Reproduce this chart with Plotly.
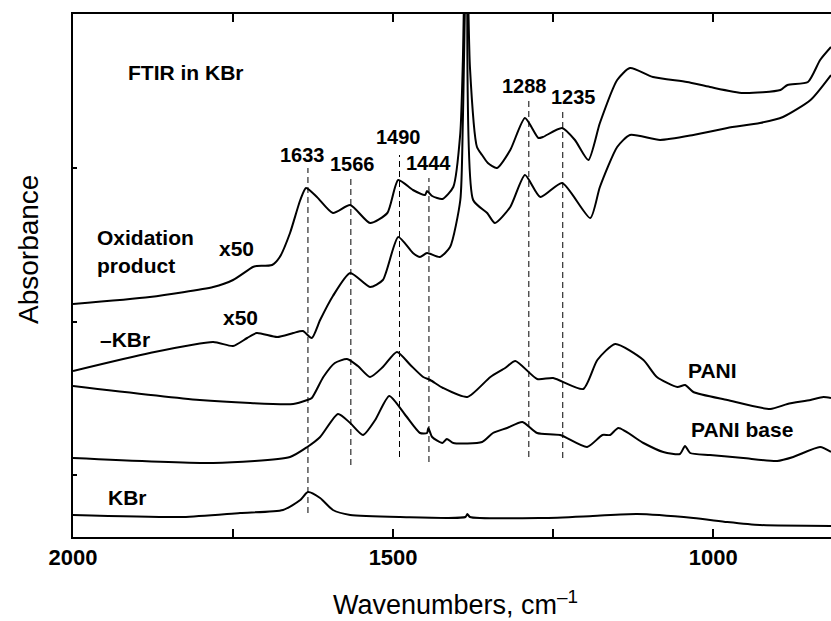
import plotly.graph_objects as go

# ---- data (wavenumber in cm^-1, absorbance in arbitrary stacked units) ----
ox_wn = [2000, 1880, 1781, 1750, 1719, 1713, 1689, 1677, 1661, 1645, 1636, 1619, 1594, 1567, 1536, 1509,
         1492, 1469, 1450, 1447, 1439, 1423, 1406, 1395, 1391, 1386, 1380, 1369, 1361, 1352, 1338, 1317,
         1294, 1273, 1266, 1236, 1216, 1195, 1177, 1150, 1130, 1094, 1041, 1005, 953, 895, 884, 852, 833, 816]
ox_ab = [233, 240, 250, 257, 270, 271, 272, 280, 304, 337, 349, 340, 324, 332, 314, 324,
         357, 347, 342, 346, 341, 338, 350, 404, 477, 640, 470, 390, 382, 374, 369, 387,
         419, 399, 400, 409, 397, 377, 414, 457, 469, 460, 455, 450, 444, 447, 452, 455, 477, 490]

kb_wn = [2000, 1880, 1781, 1750, 1728, 1713, 1681, 1656, 1641, 1627, 1614, 1594, 1567, 1536, 1516, 1492,
         1469, 1458, 1447, 1427, 1411, 1395, 1391, 1384, 1375, 1353, 1341, 1317, 1294, 1270, 1236, 1192,
         1177, 1150, 1130, 1083, 1031, 978, 927, 891, 848, 816]
kb_ab = [166, 184, 195, 191, 199, 204, 200, 204, 206, 199, 217, 241, 264, 250, 257, 300,
         284, 280, 284, 280, 290, 337, 417, 640, 337, 324, 314, 330, 362, 340, 354, 319,
         350, 390, 402, 397, 402, 409, 414, 420, 437, 462]

pani_wn = [2000, 1802, 1656, 1634, 1627, 1609, 1591, 1572, 1555, 1536, 1516, 1494, 1473, 1453, 1442, 1422,
           1384, 1348, 1325, 1309, 1275, 1250, 1203, 1181, 1153, 1109, 1088, 1056, 1044, 1031, 978, 911,
           884, 848, 828, 816]
pani_ab = [151, 137, 133, 137, 139, 160, 174, 178, 171, 160, 170, 185, 172, 160, 157, 149,
           140, 160, 169, 176, 158, 159, 148, 177, 193, 177, 160, 150, 152, 145, 137, 128,
           133, 137, 140, 139]

base_wn = [2000, 1781, 1661, 1634, 1614, 1586, 1567, 1547, 1528, 1506, 1481, 1458, 1447, 1445, 1439, 1423,
           1416, 1406, 1361, 1344, 1322, 1298, 1275, 1239, 1197, 1173, 1161, 1148, 1109, 1078, 1052, 1044,
           1036, 1005, 953, 900, 875, 833, 816]
base_ab = [79, 74, 80, 90, 100, 123, 114, 102, 117, 141, 122, 104, 104, 109, 100, 94,
           98, 94, 95, 104, 109, 115, 104, 102, 90, 102, 102, 109, 94, 85, 83, 91,
           84, 82, 79, 76, 80, 90, 85]

kbr_wn = [2000, 1828, 1739, 1672, 1645, 1633, 1614, 1594, 1567, 1489, 1387, 1384, 1380, 1266, 1188, 1119,
          1031, 978, 927, 816]
kbr_ab = [22, 20, 24, 27, 37, 45, 39, 27, 22, 20, 20, 23, 20, 19, 21, 23,
          19, 15, 12, 11]

peak_wn = [1633, 1566, 1490, 1444, 1288, 1235]
peak_text = ["1633", "1566", "1490", "1444", "1288", "1235"]
dash_top = [369, 360, 382, 359, 437, 425]
dash_bottom = [24, 72, 80, 75, 80, 79]

x_major_dtick = 500
x_minor_dtick = 250
y_tickvals = [62, 215, 369, 523]

FONT = "Arial, Liberation Sans, sans-serif"

fig = go.Figure()

for wn, ab in [(ox_wn, ox_ab), (kb_wn, kb_ab), (pani_wn, pani_ab), (base_wn, base_ab), (kbr_wn, kbr_ab)]:
    fig.add_trace(go.Scatter(x=wn, y=ab, mode="lines",
                             line=dict(color="black", width=2, shape="spline", smoothing=0.6),
                             hoverinfo="skip", showlegend=False))

for wn, t, b in zip(peak_wn, dash_top, dash_bottom):
    fig.add_trace(go.Scatter(x=[wn, wn], y=[b, t], mode="lines",
                             line=dict(color="black", width=1, dash="6px,4px"),
                             hoverinfo="skip", showlegend=False))

# peak labels (positions in data coords)
peak_label_pos = {"1633": (1641, 382), "1566": (1564, 373), "1490": (1492, 400),
                  "1444": (1445, 374), "1288": (1295, 451), "1235": (1219, 440)}
annotations = []
for t in peak_text:
    px, py = peak_label_pos[t]
    annotations.append(dict(x=px, y=py, xref="x", yref="y", text=t, showarrow=False,
                            font=dict(family=FONT, size=20, color="black", weight="bold"),
                            xanchor="center", yanchor="middle"))

bold_labels = [
    ("FTIR in KBr", 186, 72, "center"),
    ("Oxidation", 95, 237, "left"),
    ("product", 95, 265, "left"),
    ("x50", 236, 248, "center"),
    ("x50", 240, 317, "center"),
    ("\u2013KBr", 125, 339, "center"),
    ("PANI", 712, 370, "center"),
    ("PANI base", 742, 429, "center"),
    ("KBr", 127, 497, "center"),
]
# convert pixel placement to paper coords of the plot area (73..831 x, 14..537 y)
for text, px, py, anc in bold_labels:
    annotations.append(dict(x=(px - 73) / 758, y=(537 - py) / 523, xref="paper", yref="paper",
                            text=text, showarrow=False, xanchor=anc, yanchor="middle",
                            font=dict(family=FONT, size=21, color="black", weight="bold")))

annotations.append(dict(x=(455 - 73) / 758, y=(537 - 603) / 523, xref="paper", yref="paper",
                        text="Wavenumbers, cm<sup>\u20131</sup>", showarrow=False,
                        xanchor="center", yanchor="middle",
                        font=dict(family=FONT, size=27, color="black")))
annotations.append(dict(x=(28 - 73) / 758, y=(537 - 250) / 523, xref="paper", yref="paper",
                        text="Absorbance", showarrow=False, textangle=-90,
                        xanchor="center", yanchor="middle",
                        font=dict(family=FONT, size=28, color="black")))

fig.update_layout(
    width=831, height=621,
    margin=dict(l=73, r=0, t=14, b=84),
    paper_bgcolor="white", plot_bgcolor="white",
    annotations=annotations,
    xaxis=dict(range=[2000, 816], tick0=0, dtick=x_major_dtick,
               ticks="inside", ticklen=8, tickwidth=1.5, tickcolor="black",
               minor=dict(tick0=0, dtick=x_minor_dtick, ticks="inside", ticklen=8,
                          tickwidth=1.5, tickcolor="black", showgrid=False),
               showline=True, linecolor="black", linewidth=2, mirror="ticks",
               showgrid=False, zeroline=False,
               tickfont=dict(family=FONT, size=22, color="black", weight="bold")),
    yaxis=dict(range=[0, 523], tickvals=y_tickvals, showticklabels=False,
               ticks="inside", ticklen=4, tickwidth=1.5, tickcolor="black",
               showline=True, linecolor="black", linewidth=2, mirror=False,
               showgrid=False, zeroline=False),
)

fig.write_html("out.html")
